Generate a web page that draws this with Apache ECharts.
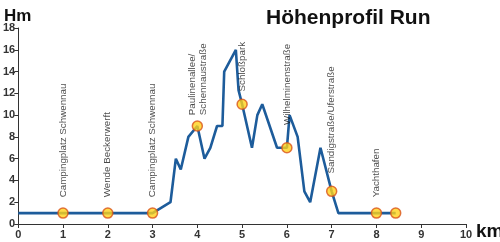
<!DOCTYPE html>
<html><head><meta charset="utf-8">
<script src="https://cdn.jsdelivr.net/npm/echarts@6/dist/echarts.min.js"></script>
<style>html,body{margin:0;padding:0;background:#fff}#c{width:500px;height:242px}</style>
</head><body><div id="c"></div>
<script>
// profile data
var profileKm   = [0,1,2,3,3.4,3.52,3.63,3.8,4,4.16,4.29,4.44,4.56,4.6,4.86,4.92,5,5.22,5.34,5.45,5.78,5.92,6,6.06,6.24,6.39,6.52,6.75,7,7.15,8,8.43];
var profileElev = [1,1,1,1,2,6,5,8,9,6,7,9,9,14,16,12.3,11,7,10,11,7,7,7,10,8,3,2,7,3,1,1,1];
// stations
var stationKm   = [1,2,3,4,5,6,7,8,8.43];
var stationElev = [1,1,1,9,11,7,3,1,1];
var stationNames = ['Campingplatz Schwennau','Wende Beckerwerft','Campingplatz Schwennau','Paulinenallee/\nSchennaustraße','Schloßpark','Wilhelminenstraße','Sandigstraße/Uferstraße','Yachthafen',''];
// axis ticks
var xTicks = [0,1,2,3,4,5,6,7,8,9,10];
var yTicks = [0,2,4,6,8,10,12,14,16,18];

var FONT = '"Liberation Sans Narrow","Arial Narrow",Arial,sans-serif';
var labelGap = [10,10,10,5,5,21,9,9,0];
var labelShift = [0,0,0,0,2,-4,3,1,0];

var chart = echarts.init(document.getElementById('c'));
var lineData = profileKm.map(function(k,i){return [k, profileElev[i]];});
var stData = stationKm.map(function(k,i){
  return {value:[k, stationElev[i]], label:{show: !!stationNames[i], formatter: stationNames[i], distance: labelGap[i], offset:[labelShift[i],0]}};
});
chart.setOption({
  animation:false,
  grid:{left:17,right:34,top:28,bottom:18},
  title:{text:'Höhenprofil Run',left:261,top:3,textStyle:{fontFamily:FONT,fontWeight:'bold',fontSize:21,color:'#111'}},
  graphic:[
    {type:'text',left:4,top:8,style:{text:'Hm',font:'bold 17px '+FONT,fill:'#111'}},
    {type:'text',left:476,top:222,style:{text:'km',font:'bold 19px '+FONT,fill:'#111'}}
  ],
  xAxis:{type:'value',min:xTicks[0],max:xTicks[xTicks.length-1],interval:1,
    axisLine:{lineStyle:{color:'#333',width:1}},
    axisTick:{show:true,length:4,lineStyle:{color:'#333'}},
    splitLine:{show:false},
    axisLabel:{fontFamily:FONT,fontSize:11,fontWeight:'bold',color:'#333',margin:5}},
  yAxis:{type:'value',min:yTicks[0],max:yTicks[yTicks.length-1],interval:2,
    axisLine:{show:true,lineStyle:{color:'#333',width:1}},
    axisTick:{show:true,length:4,lineStyle:{color:'#333'}},
    splitLine:{show:false},
    axisLabel:{fontFamily:FONT,fontSize:11,fontWeight:'bold',color:'#333',margin:3}},
  series:[
    {type:'line',data:lineData,symbol:'none',lineStyle:{color:'#1d5c9b',width:2.6},z:2},
    {type:'scatter',data:stData,symbolSize:10,z:3,
     itemStyle:{color:'#ffd21a',borderColor:'#d9541a',borderWidth:1.5},
     label:{position:'top',rotate:90,align:'left',verticalAlign:'middle',fontFamily:FONT,fontSize:9.8,color:'#1a1a1a',lineHeight:11}}
  ]
});
</script></body></html>
